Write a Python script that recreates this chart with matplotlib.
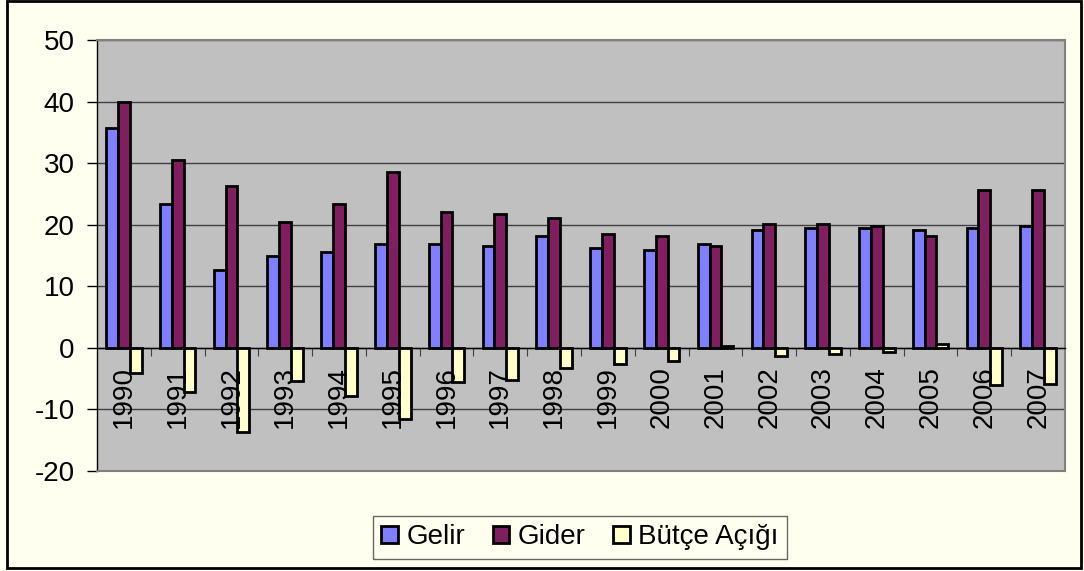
import numpy as np
import matplotlib
matplotlib.use("Agg")
import matplotlib.pyplot as plt
from matplotlib.patches import Rectangle

plt.rcParams['font.family'] = ['Liberation Sans', 'DejaVu Sans']
plt.rcParams['axes.unicode_minus'] = False

years = ['1990', '1991', '1992', '1993', '1994', '1995', '1996', '1997', '1998',
         '1999', '2000', '2001', '2002', '2003', '2004', '2005', '2006', '2007']
gelir = [35.7, 23.4, 12.7, 14.9, 15.6, 16.9, 16.9, 16.6, 18.2,
         16.3, 15.9, 16.9, 19.2, 19.5, 19.5, 19.2, 19.5, 19.8]
gider = [40.0, 30.5, 26.3, 20.4, 23.4, 28.6, 22.1, 21.8, 21.1,
         18.5, 18.1, 16.6, 20.1, 20.1, 19.8, 18.2, 25.7, 25.7]
butce = [-4.1, -7.1, -13.6, -5.4, -7.8, -11.6, -5.5, -5.2, -3.3,
         -2.6, -2.2, 0.3, -1.3, -1.0, -0.7, 0.7, -6.1, -5.8]
series_names = ['Gelir', 'Gider', 'Bütçe Açığı']
colors = ['#8080FF', '#7F1F5F', '#FFFFCC']
yticks = [-20, -10, 0, 10, 20, 30, 40, 50]

bg = '#FFFFF0'
fs = 20
fig = plt.figure(figsize=(10.84, 5.71), dpi=100, facecolor=bg)
ax = fig.add_axes([0.0895, 0.175, 0.893, 0.755])
ax.set_facecolor('#C0C0C0')

x = np.arange(len(years))
w = 0.22
for k, vals in enumerate([gelir, gider, butce]):
    ax.bar(x + (k - 1) * w, vals, w, color=colors[k], edgecolor='black',
           linewidth=2, label=series_names[k], zorder=3)

ax.set_xlim(-0.5, len(years) - 0.5)
ax.set_ylim(-20, 50)
ax.set_yticks(yticks)
ax.yaxis.grid(True, color='#404040', linewidth=1, zorder=1)
ax.tick_params(axis='y', direction='out', length=7, width=1, pad=9, labelsize=fs)
ax.set_xticks([])
for s in ax.spines.values():
    s.set_color('#808080')
    s.set_linewidth(1.5)
ax.spines['left'].set_color('black')
ax.spines['left'].set_linewidth(1)

# x axis on the zero line
sec = ax.secondary_xaxis(20 / 70)
sec.spines['bottom'].set_color('black')
sec.spines['bottom'].set_linewidth(1)
sec.set_xticks(x[:-1] + 0.5)
sec.set_xticklabels([])
sec.set_xticks(x, labels=years, minor=True)
sec.tick_params(which='major', direction='out', length=6, color='#404040')
sec.tick_params(which='minor', length=0, pad=13, labelsize=fs, labelrotation=90)
sec.set_zorder(4)

leg = fig.legend(loc='center', bbox_to_anchor=(0.535, 0.059), ncol=3, fontsize=fs,
                 frameon=True, fancybox=False, edgecolor='#404040', facecolor=bg,
                 handlelength=0.6, handleheight=0.6, handletextpad=0.3,
                 columnspacing=1.0, borderpad=0.3)
leg.get_frame().set_linewidth(1)

fig.patches.append(Rectangle((0.006, 0.005), 0.991, 0.993, transform=fig.transFigure,
                             fill=False, edgecolor='black', linewidth=2))

fig.savefig('out.png', dpi=100, facecolor=bg)
